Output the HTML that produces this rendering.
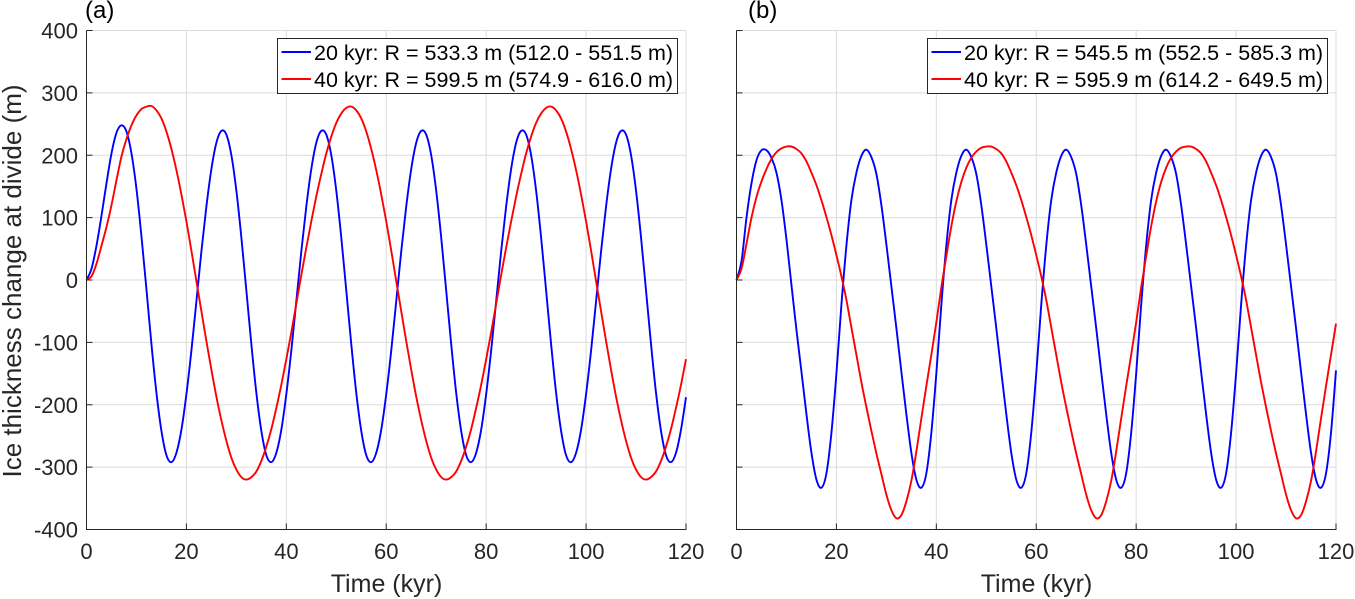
<!DOCTYPE html>
<html lang="en">
<head>
<meta charset="utf-8">
<title>Ice thickness change at divide</title>
<style>
html,body{margin:0;padding:0;background:#fff;}
body{width:1355px;height:599px;overflow:hidden;}
svg{display:block;font-family:"Liberation Sans",Arial,sans-serif;}
</style>
</head>
<body>
<svg id="chart" width="1355" height="599" viewBox="0 0 1355 599" xmlns="http://www.w3.org/2000/svg"></svg>
<script>
const timeKyr = [0,1,2,3,4,5,6,7,8,9,10,11,12,13,14,15,16,17,18,19,20,21,22,23,24,25,26,27,28,29,30,31,32,33,34,35,36,37,38,39,40,41,42,43,44,45,46,47,48,49,50,51,52,53,54,55,56,57,58,59,60,61,62,63,64,65,66,67,68,69,70,71,72,73,74,75,76,77,78,79,80,81,82,83,84,85,86,87,88,89,90,91,92,93,94,95,96,97,98,99,100,101,102,103,104,105,106,107,108,109,110,111,112,113,114,115,116,117,118,119,120];

const panelA20kyr = [
0,18,55,103,155,203,236,248,238,203,146,70,-15,-103,-181,-242,-281,-292,-277,-240,-183,-113,-34,46,118,178,220,
239,233,200,143,68,-17,-103,-181,-242,-281,-292,-277,-240,-183,-113,-34,46,118,178,220,
239,233,200,143,68,-17,-103,-181,-242,-281,-292,-277,-240,-183,-113,-34,46,118,178,220,
239,233,200,143,68,-17,-103,-181,-242,-281,-292,-277,-240,-183,-113,-34,46,118,178,220,
239,233,200,143,68,-17,-103,-181,-242,-281,-292,-277,-240,-183,-113,-34,46,118,178,220,
239,233,200,143,68,-17,-103,-181,-242,-281,-292,-277,-240,-188];

const panelA40kyr = [
0,6,26,55,85,120,160,198,226,248,264,274,278,279,
272,259,238,210,176,137,94,47,-2,-50,-98,-144,-187,-225,-258,-285,-304,-316,-320,
-316,-307,-290,-267,-239,-205,-168,-127,-84,-38,8,52,94,134,170,203,230,252,267,276,278,
272,259,238,210,176,137,94,47,-2,-50,-98,-144,-187,-225,-258,-285,-304,-316,-320,
-316,-307,-290,-267,-239,-205,-168,-127,-84,-38,8,52,94,134,170,203,230,252,267,276,278,
272,259,238,210,176,137,94,47,-2,-50,-98,-144,-187,-225,-258,-285,-304,-316,-320,
-316,-307,-290,-267,-239,-205,-168,-127];

const panelB20kyr = [
0,30,100,155,192,208,208,196,172,128,65,-8,-80,-147,-215,-277,-320,-333,-310,-245,-150,-40,55,128,172,199,
209,197,170,120,57,-10,-77,-147,-215,-277,-320,-333,-310,-245,-150,-40,55,128,172,199,
209,197,170,120,57,-10,-77,-147,-215,-277,-320,-333,-310,-245,-150,-40,55,128,172,199,
209,197,170,120,57,-10,-77,-147,-215,-277,-320,-333,-310,-245,-150,-40,55,128,172,199,
209,197,170,120,57,-10,-77,-147,-215,-277,-320,-333,-310,-245,-150,-40,55,128,172,199,
209,197,170,120,57,-10,-77,-147,-215,-277,-320,-333,-310,-245,-145];

const panelB40kyr = [
0,18,58,100,133,158,178,194,205,211,214,214,210,203,190,172,152,128,101,72,40,6,-32,-76,-120,-164,-204,-242,-278,-311,-344,-369,-382,
-377,-355,-322,-275,-222,-170,-120,-68,-12,38,86,126,157,180,196,206,212,214,
214,210,203,190,172,152,128,101,72,40,6,-32,-76,-120,-164,-204,-242,-278,-311,-344,-369,-382,
-377,-355,-322,-275,-222,-170,-120,-68,-12,38,86,126,157,180,196,206,212,214,
214,210,203,190,172,152,128,101,72,40,6,-32,-76,-120,-164,-204,-242,-278,-311,-344,-369,-382,
-377,-355,-322,-275,-222,-170,-120,-70];

const xTickValues = [0,20,40,60,80,100,120];
const yTickValues = [400,300,200,100,0,-100,-200,-300,-400];

const NS = 'http://www.w3.org/2000/svg';
const svg = document.getElementById('chart');

function make(tag, attrs, parent, text) {
  const el = document.createElementNS(NS, tag);
  for (const k in attrs) el.setAttribute(k, attrs[k]);
  if (text !== undefined) el.textContent = text;
  parent.appendChild(el);
  return el;
}

function smoothPath(xs, ys, sx, sy) {
  const p = xs.map((x, i) => [sx(x), sy(ys[i])]);
  let d = 'M' + p[0][0].toFixed(2) + ' ' + p[0][1].toFixed(2);
  for (let i = 0; i < p.length - 1; i++) {
    const a = p[Math.max(i - 1, 0)], b = p[i], c = p[i + 1], e = p[Math.min(i + 2, p.length - 1)];
    const c1x = b[0] + (c[0] - a[0]) / 6, c1y = b[1] + (c[1] - a[1]) / 6;
    const c2x = c[0] - (e[0] - b[0]) / 6, c2y = c[1] - (e[1] - b[1]) / 6;
    d += 'C' + c1x.toFixed(2) + ' ' + c1y.toFixed(2) + ' ' + c2x.toFixed(2) + ' ' + c2y.toFixed(2) + ' ' + c[0].toFixed(2) + ' ' + c[1].toFixed(2);
  }
  return d;
}

function drawPanel(cfg) {
  const left = cfg.left, right = cfg.left + 599.5, top = 30.5, bottom = 529.5;
  const sx = t => left + (t - 0) / 120 * (right - left);
  const sy = v => bottom - (v + 400) / 800 * (bottom - top);
  const g = make('g', {}, svg);
  
  

  make('rect', {x: left, y: top, width: right - left, height: bottom - top, fill: '#fff'}, g);

  // gridlines and top/right light border
  xTickValues.forEach(t => {
    if (t === 0) return;
    const ln = make('line', {x1: sx(t), x2: sx(t), y1: top, y2: bottom, stroke: '#dcdcdc', 'stroke-width': 1}, g);
    
    
  });
  yTickValues.forEach(v => {
    if (v === -400) return;
    const ln = make('line', {x1: left, x2: right, y1: sy(v), y2: sy(v), stroke: '#dcdcdc', 'stroke-width': 1}, g);
    
    
  });

  // series
  const s20 = make('path', {d: smoothPath(timeKyr, cfg.blue, sx, sy), fill: 'none', stroke: '#0000ff', 'stroke-width': 1.9, 'stroke-linejoin': 'round'}, g);
  
  
  const s40 = make('path', {d: smoothPath(timeKyr, cfg.red, sx, sy), fill: 'none', stroke: '#ff0000', 'stroke-width': 1.9, 'stroke-linejoin': 'round'}, g);
  
  

  // axes
  const yAxis = make('line', {x1: left, x2: left, y1: top, y2: bottom, stroke: '#262626', 'stroke-width': 1}, g);
  
  
  const xAxis = make('line', {x1: left - 0.5, x2: right + 0.5, y1: bottom, y2: bottom, stroke: '#262626', 'stroke-width': 1}, g);
  
  

  // ticks and labels
  xTickValues.forEach(t => {
    const tick = make('line', {x1: sx(t), x2: sx(t), y1: bottom, y2: bottom - 6, stroke: '#262626', 'stroke-width': 1}, g);
    
    
    const lab = make('text', {x: sx(t), y: 559, 'text-anchor': 'middle', 'font-size': 22, fill: '#262626'}, g, String(t));
    
    
  });
  yTickValues.forEach(v => {
    const tick = make('line', {x1: left, x2: left + 6, y1: sy(v), y2: sy(v), stroke: '#262626', 'stroke-width': 1}, g);
    
    
    if (cfg.showY) {
      const lab = make('text', {x: 78, y: sy(v) + 8, 'text-anchor': 'end', 'font-size': 22, fill: '#262626'}, g, String(v));
      
      
    }
  });

  const xt = make('text', {x: left + 300, y: 592, 'text-anchor': 'middle', 'font-size': 25, fill: '#262626'}, g, 'Time (kyr)');
  
  

  if (cfg.showY) {
    const yt = make('text', {x: 0, y: 0, transform: 'translate(21 281) rotate(-90)', 'text-anchor': 'middle', 'font-size': 26, fill: '#262626'}, g, 'Ice thickness change at divide (m)');
    
    
  }

  const pl = make('text', {x: cfg.labelX, y: 18, 'font-size': 24, fill: '#000'}, g, cfg.label);
  
  

  // legend
  const lg = make('g', {}, g);
  
  
  const lx = cfg.legendX;
  make('rect', {x: lx, y: 38.5, width: 400, height: 55, fill: '#fff', stroke: '#262626', 'stroke-width': 1}, lg);

  const e1 = make('g', {}, lg);
  
  
  make('line', {x1: lx + 4, x2: lx + 33.5, y1: 52, y2: 52, stroke: '#0000ff', 'stroke-width': 1.9}, e1);
  make('text', {x: lx + 36.5, y: 60, 'font-size': 21.5, fill: '#000'}, e1, cfg.legend20);

  const e2 = make('g', {}, lg);
  
  
  make('line', {x1: lx + 4, x2: lx + 33.5, y1: 79, y2: 79, stroke: '#ff0000', 'stroke-width': 1.9}, e2);
  make('text', {x: lx + 36.5, y: 87, 'font-size': 21.5, fill: '#000'}, e2, cfg.legend40);
}

drawPanel({id: 'a', left: 86.5, showY: true, label: '(a)', labelX: 85, legendX: 277.5,
  blue: panelA20kyr, red: panelA40kyr,
  legend20: '20 kyr: R = 533.3 m (512.0 - 551.5 m)',
  legend40: '40 kyr: R = 599.5 m (574.9 - 616.0 m)'});
drawPanel({id: 'b', left: 736.5, showY: false, label: '(b)', labelX: 748, legendX: 927.5,
  blue: panelB20kyr, red: panelB40kyr,
  legend20: '20 kyr: R = 545.5 m (552.5 - 585.3 m)',
  legend40: '40 kyr: R = 595.9 m (614.2 - 649.5 m)'});
</script>
</body>
</html>
